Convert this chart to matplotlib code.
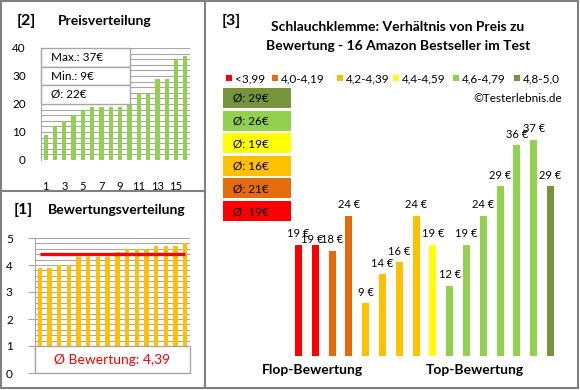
import numpy as np
import matplotlib
matplotlib.use('Agg')
import matplotlib.pyplot as plt
from matplotlib.patches import Rectangle

plt.rcParams['font.family'] = ['Lato', 'DejaVu Sans']

# Daten
preise_sortiert = [9, 12, 14, 16, 18, 19, 19, 19, 19, 20, 24, 24, 29, 29, 36, 37]
bewertungen = [3.9, 3.9, 4.0, 4.0, 4.3, 4.3, 4.3, 4.3, 4.5, 4.6, 4.6, 4.6, 4.7, 4.7, 4.7, 4.8]
preise = [19, 19, 18, 24, 9, 14, 16, 24, 19, 12, 19, 24, 29, 36, 37, 29]
gruppen = [0, 0, 1, 1, 2, 2, 2, 2, 3, 4, 4, 4, 4, 4, 4, 5]
gruppen_labels = ['<3,99', '4,0-4,19', '4,2-4,39', '4,4-4,59', '4,6-4,79', '4,8-5,0']
gruppen_farben = ['#FF0000', '#E46C0A', '#FFC000', '#FFFF00', '#92D050', '#77933C']
gruppen_schnitt = [19, 21, 16, 19, 26, 29]
preis_info = ['Max.: 37€', 'Min.: 9€', 'Ø: 22€']
schnitt_bewertung = 4.39

W, H = 580, 390
fig = plt.figure(figsize=(W / 100, H / 100), dpi=100)
GRAU = '#a6a6a6'


def px_axes(x0, y0, x1, y1):
    return fig.add_axes([x0 / W, 1 - y1 / H, (x1 - x0) / W, (y1 - y0) / H])


# [2] Preisverteilung
ax1 = px_axes(41, 48, 190, 160)
n = len(preise_sortiert)
x = np.arange(1, n + 1)
ax1.bar(x, preise_sortiert, width=0.45, color='#92D050', zorder=3)
ax1.set_xlim(0.5, n + 0.5)
ax1.set_ylim(0, 40)
ax1.set_yticks(range(0, 41, 10))
ax1.set_yticks(range(0, 41, 2), minor=True)
ax1.grid(which='both', axis='y', color=GRAU, lw=0.8, zorder=0)
ax1.set_xticks(range(1, n + 1, 2))
ax1.tick_params(axis='y', length=0, pad=11, labelsize=8.5)
ax1.tick_params(axis='x', length=0, pad=15, labelsize=8)
ax1.tick_params(which='minor', length=0)
for s in ['top', 'right', 'bottom']:
    ax1.spines[s].set_visible(False)
ax1.spines['left'].set_color(GRAU)

# [1] Bewertungsverteilung
ax2 = px_axes(35, 238, 190, 373)
ax2.bar(x, bewertungen, width=0.45, color='#FFC000', zorder=3)
ax2.hlines(schnitt_bewertung, 1, n, color='#FF0000', lw=2.4, zorder=4)
ax2.set_xlim(0.5, n + 0.5)
ax2.set_ylim(0, 5)
ax2.set_yticks(range(0, 6))
ax2.set_yticks(np.arange(0, 5.01, 0.2), minor=True)
ax2.grid(which='both', axis='y', color=GRAU, lw=0.8, zorder=0)
ax2.set_xticks([])
ax2.tick_params(axis='y', which='major', length=5, color=GRAU, pad=11, labelsize=8.5)
ax2.tick_params(which='minor', length=0)
for s in ['top', 'right', 'bottom']:
    ax2.spines[s].set_visible(False)
ax2.spines['left'].set_color(GRAU)
tr = ax2.get_yaxis_transform()
ax2.add_patch(Rectangle((0, 0), 1, 1, transform=tr, fc='white', ec=GRAU, lw=1, zorder=6, clip_on=False))
ax2.text(0.5, 0.5, 'Ø Bewertung: ' + f'{schnitt_bewertung:.2f}'.replace('.', ','), transform=tr,
         ha='center', va='center', color='#FF0000', fontsize=10, zorder=7)

# [3] Preis zu Bewertung
ax3 = px_axes(290, 122, 559, 356)
farben = [gruppen_farben[g] for g in gruppen]
ax3.bar(x, preise, width=0.42, color=farben)
ax3.set_xlim(0.5, n + 0.5)
ax3.set_ylim(0, 40)
ax3.axis('off')
for i, v in enumerate(preise):
    dx, dy = (-2, -4) if i == 1 else (0, 0)
    ax3.annotate(f'{v} €', (x[i], v), xytext=(dx, 4 + dy), textcoords='offset points',
                 ha='center', va='bottom', fontsize=8)

# Rahmen, Texte, Kästen
ov = fig.add_axes([0, 0, 1, 1])
ov.set_xlim(0, W)
ov.set_ylim(H, 0)
ov.axis('off')
ov.patch.set_alpha(0)
rk = dict(fc='none', ec='#808080', lw=1.5)
ov.add_patch(Rectangle((1, 1), 577, 387, **rk))
ov.plot([205, 205], [1, 388], color='#808080', lw=1.5)
ov.plot([1, 205], [191, 191], color='#808080', lw=1.5)

ov.text(17, 21, '[2]', fontsize=11.5, fontweight='bold', va='center')
ov.text(58, 21, 'Preisverteilung', fontsize=10, fontweight='bold', va='center')
ov.text(14, 210, '[1]', fontsize=11.5, fontweight='bold', va='center')
ov.text(48, 210, 'Bewertungsverteilung', fontsize=10, fontweight='bold', va='center')

# Preis-Infobox
for k, t in enumerate(preis_info):
    y0 = 48 + k * 18.5
    ov.add_patch(Rectangle((41, y0), 89, 18.5, fc='white', ec=GRAU, lw=1))
    ov.text(51, y0 + 9.5, t, fontsize=8.5, va='center')

ov.text(222, 21, '[3]', fontsize=11.5, fontweight='bold', va='center')
ov.text(398, 27, 'Schlauchklemme: Verhältnis von Preis zu', fontsize=10,
        fontweight='bold', ha='center', va='center')
ov.text(398, 46, 'Bewertung - 16 Amazon Bestseller im Test', fontsize=10,
        fontweight='bold', ha='center', va='center')

# Legende
leg_x = [226, 272, 337, 393, 453, 514]
for lx, lab, c in zip(leg_x, gruppen_labels, gruppen_farben):
    ov.add_patch(Rectangle((lx, 75), 6, 6, fc=c, ec='none'))
    ov.text(lx + 9, 78.5, lab, fontsize=8.5, va='center')
ov.text(562, 98, '©Testerlebnis.de', fontsize=8.5, ha='right', va='center')

# Durchschnittspreise je Bewertungsgruppe
for k, g in enumerate(range(len(gruppen_schnitt) - 1, -1, -1)):
    y0 = 88 + k * 22.6
    ov.add_patch(Rectangle((223, y0), 68, 20, fc=gruppen_farben[g], ec='none'))
    ov.text(233, y0 + 10.5, f'Ø: {gruppen_schnitt[g]}€', fontsize=8.5, va='center')

ov.text(312, 370, 'Flop-Bewertung', fontsize=10, fontweight='bold', ha='center', va='center')
ov.text(475, 370, 'Top-Bewertung', fontsize=10, fontweight='bold', ha='center', va='center')

fig.savefig('out.png', dpi=100)
plt.close(fig)
